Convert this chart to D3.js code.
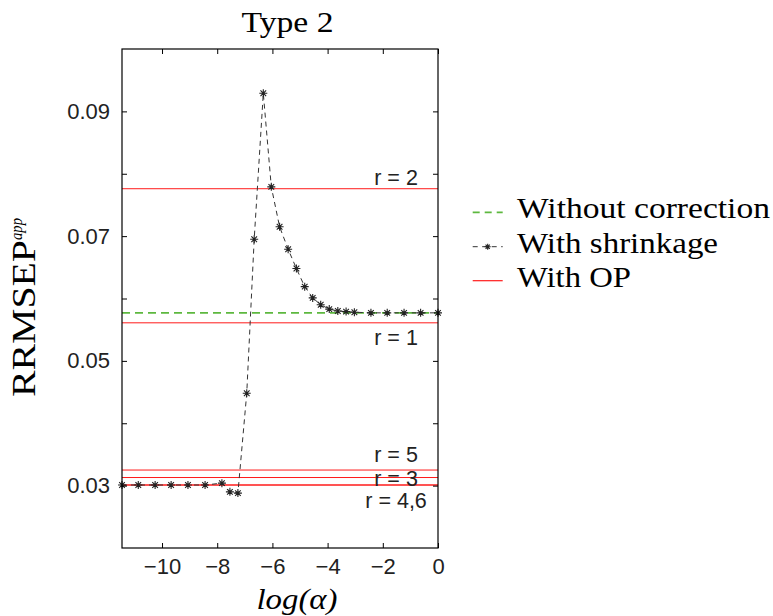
<!DOCTYPE html>
<html>
<head>
<meta charset="utf-8">
<script src="https://cdn.jsdelivr.net/npm/d3@7"></script>
<style>
  html, body { margin: 0; padding: 0; background: #fff; }
  svg { display: block; }
</style>
</head>
<body>
<svg id="chart" width="773" height="616"></svg>
<script>
// ---------------- data ----------------
const logAlpha = [-11.45, -10.86, -10.25, -9.67, -9.06, -8.44, -7.83, -7.54, -7.25, -6.93,
                  -6.66, -6.33, -6.04, -5.74, -5.43, -5.13, -4.83, -4.54, -4.25, -3.94,
                  -3.63, -3.33, -3.03, -2.43, -1.84, -1.23, -0.63, 0];
const shrinkage = [0.0301, 0.0301, 0.0301, 0.0301, 0.0301, 0.0301, 0.0304, 0.0290, 0.0288, 0.0448,
                   0.0695, 0.0929, 0.0779, 0.0715, 0.0679, 0.0648, 0.0619, 0.0601, 0.0590, 0.0583,
                   0.0580, 0.0579, 0.0578, 0.0577, 0.0577, 0.0577, 0.0577, 0.0577];
const withoutCorrection = 0.0577;
const opRank = [1, 2, 3, 4, 5, 6];
const opValue = [0.0561, 0.0776, 0.0313, 0.0301, 0.0325, 0.0301];
const opLabelText = ["r = 1", "r = 2", "r = 3", "r = 4,6", "r = 5"];
const opLabelValue = [0.0561, 0.0776, 0.0313, 0.0301, 0.0325];
const xTicks = [-10, -8, -6, -4, -2, 0];
const yTicks = [0.03, 0.04, 0.05, 0.06, 0.07, 0.08, 0.09];
const yTickLabels = ["0.03", "", "0.05", "", "0.07", "", "0.09"];
const legendLabels = ["Without correction", "With shrinkage", "With OP"];
const titleText = "Type 2";

// ---------------- layout ----------------
const svg = d3.select("#chart");
const L = 122, R = 438, T = 49, B = 548;
const x = d3.scaleLinear().domain([-11.45, 0]).range([L, R]);
const y = d3.scaleLinear().domain([0.02, 0.1]).range([B, T]);
const red = "#ff1a1a", green = "#5db83f", dark = "#222";
const SERIF = "'Liberation Serif'";
const SANS = "'Liberation Sans'";

// OP lines
svg.append("g").selectAll("line").data(opValue).join("line")
  .attr("x1", L).attr("x2", R)
  .attr("y1", d => y(d)).attr("y2", d => y(d))
  .attr("stroke", red).attr("stroke-width", 1);

// without correction
svg.append("line")
  .attr("x1", L).attr("x2", R)
  .attr("y1", y(withoutCorrection)).attr("y2", y(withoutCorrection))
  .attr("stroke", green).attr("stroke-width", 1.8)
  .attr("stroke-dasharray", "8,5");

// shrinkage line
const pts = logAlpha.map((a, i) => [a, shrinkage[i]]);
svg.append("path")
  .datum(pts)
  .attr("fill", "none")
  .attr("stroke", "#333").attr("stroke-width", 1)
  .attr("stroke-dasharray", "5,4")
  .attr("d", d3.line().x(d => x(d[0])).y(d => y(d[1])));

function starPath(cx, cy, r) {
  const p = d3.path();
  const k = r * Math.SQRT1_2;
  p.moveTo(cx - r, cy); p.lineTo(cx + r, cy);
  p.moveTo(cx, cy - r); p.lineTo(cx, cy + r);
  p.moveTo(cx - k, cy - k); p.lineTo(cx + k, cy + k);
  p.moveTo(cx - k, cy + k); p.lineTo(cx + k, cy - k);
  return p.toString();
}
svg.append("g").selectAll("path").data(pts).join("path")
  .attr("d", d => starPath(x(d[0]), y(d[1]), 4))
  .attr("stroke", dark).attr("stroke-width", 1.1).attr("fill", "none");

// OP labels
const labelOffset = { "r = 1": 22, "r = 2": -4, "r = 3": 8, "r = 4,6": 22.5, "r = 5": -8 };
svg.append("g").selectAll("text").data(opLabelText).join("text")
  .style("font-family", SANS).style("font-size", "21.5px")
  .attr("x", x(-1.52))
  .attr("y", (d, i) => y(opLabelValue[i]) + labelOffset[d])
  .attr("text-anchor", "middle")
  .attr("fill", "#222")
  .text(d => d);

// axes box
svg.append("rect").attr("x", L).attr("y", T).attr("width", R - L).attr("height", B - T)
  .attr("fill", "none").attr("stroke", "#000").attr("stroke-width", 1.2);

const axB = svg.append("g").attr("transform", `translate(0,${B})`)
  .call(d3.axisBottom(x).tickValues(xTicks).tickSizeInner(-5).tickSizeOuter(0).tickPadding(10)
        .tickFormat(d => d < 0 ? "\u2212" + Math.abs(d) : String(d)));
const axT = svg.append("g").attr("transform", `translate(0,${T})`)
  .call(d3.axisTop(x).tickValues(xTicks).tickSizeInner(-5).tickSizeOuter(0).tickFormat(""));
const axL = svg.append("g").attr("transform", `translate(${L},0)`)
  .call(d3.axisLeft(y).tickValues(yTicks).tickSizeInner(-5).tickSizeOuter(0).tickPadding(12)
        .tickFormat((d, i) => yTickLabels[i]));
const axR = svg.append("g").attr("transform", `translate(${R},0)`)
  .call(d3.axisRight(y).tickValues(yTicks).tickSizeInner(-5).tickSizeOuter(0).tickFormat(""));
[axB, axT, axL, axR].forEach(g => {
  g.select(".domain").remove();
  g.selectAll(".tick line").attr("stroke", "#000").attr("stroke-width", 1);
  g.selectAll("text").style("font-family", SANS).style("font-size", "22px").attr("fill", "#222");
});

// title
svg.append("text")
  .style("font-family", SERIF).style("font-size", "29px")
  .attr("x", 287.5).attr("y", 32)
  .attr("text-anchor", "middle")
  .attr("textLength", 92).attr("lengthAdjust", "spacingAndGlyphs")
  .text(titleText);

// x label
svg.append("text")
  .style("font-family", SERIF).style("font-size", "29px").style("font-style", "italic")
  .attr("x", 297).attr("y", 609)
  .attr("text-anchor", "middle")
  .attr("textLength", 81).attr("lengthAdjust", "spacingAndGlyphs")
  .text("log(\u03B1)");

// y label
const yl = svg.append("text")
  .style("font-family", SERIF).style("font-size", "33px")
  .attr("transform", "translate(35,397) rotate(-90)");
yl.append("tspan").attr("textLength", 157).attr("lengthAdjust", "spacingAndGlyphs").text("RRMSEP");
yl.append("tspan").style("font-size", "17px").style("font-style", "italic").attr("dy", -13)
  .attr("textLength", 22).attr("lengthAdjust", "spacingAndGlyphs").text("app");

// legend
const legY = [212.3, 246.7, 280.7];
const legLen = [253, 201, 114];
const lx1 = 472.7, lx2 = 502.7;
svg.append("line").attr("x1", lx1).attr("x2", lx2).attr("y1", legY[0]).attr("y2", legY[0])
  .attr("stroke", green).attr("stroke-width", 1.8).attr("stroke-dasharray", "7,5");
svg.append("line").attr("x1", lx1).attr("x2", lx2).attr("y1", legY[1]).attr("y2", legY[1])
  .attr("stroke", "#333").attr("stroke-width", 1).attr("stroke-dasharray", "5,4.5");
svg.append("path").attr("d", starPath((lx1 + lx2) / 2, legY[1], 3))
  .attr("stroke", dark).attr("stroke-width", 1.1).attr("fill", "none");
svg.append("line").attr("x1", lx1).attr("x2", lx2).attr("y1", legY[2]).attr("y2", legY[2])
  .attr("stroke", red).attr("stroke-width", 1.2);
svg.append("g").selectAll("text").data(legendLabels).join("text")
  .style("font-family", SERIF).style("font-size", "30px")
  .attr("x", 517).attr("y", (d, i) => legY[i] + 6)
  .attr("textLength", (d, i) => legLen[i]).attr("lengthAdjust", "spacingAndGlyphs")
  .text(d => d);
</script>
</body>
</html>
